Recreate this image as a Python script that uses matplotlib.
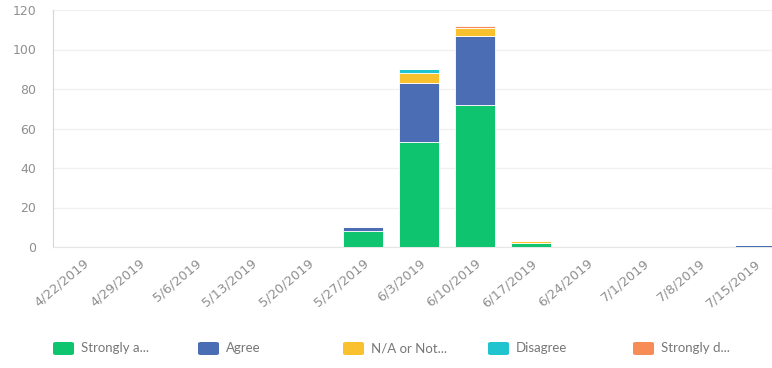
import matplotlib
matplotlib.use("Agg")
import matplotlib.pyplot as plt
from matplotlib.patches import FancyBboxPatch
import numpy as np

plt.rcParams['font.family'] = ['DejaVu Sans']

# data
weeks = ["4/22/2019", "4/29/2019", "5/6/2019", "5/13/2019", "5/20/2019", "5/27/2019",
         "6/3/2019", "6/10/2019", "6/17/2019", "6/24/2019", "7/1/2019", "7/8/2019", "7/15/2019"]
strongly_agree = [0, 0, 0, 0, 0, 8, 53, 72, 2, 0, 0, 0, 0]
agree = [0, 0, 0, 0, 0, 2, 30, 35, 0, 0, 0, 0, 1]
na_not = [0, 0, 0, 0, 0, 0, 5, 4, 1, 0, 0, 0, 0]
disagree = [0, 0, 0, 0, 0, 0, 2, 0, 0, 0, 0, 0, 0]
strongly_disagree = [0, 0, 0, 0, 0, 0, 0, 1, 0, 0, 0, 0, 0]

series = [strongly_agree, agree, na_not, disagree, strongly_disagree]
labels = ["Strongly a...", "Agree", "N/A or Not...", "Disagree", "Strongly d..."]
colors = ["#0fc46f", "#4a6db3", "#f8c12d", "#1fc4cf", "#f78c57"]

fig = plt.figure(figsize=(7.72, 3.68), dpi=100)
ax = fig.add_axes([53 / 772, 121 / 368, (772 - 53) / 772, 237 / 368])

x = np.arange(len(weeks))
bottom = np.zeros(len(weeks))
for vals, c in zip(series, colors):
    vals = np.array(vals, dtype=float)
    ax.bar(x, vals, width=0.72, bottom=bottom, color=c, edgecolor="white",
           linewidth=0.6, zorder=3)
    bottom += vals

ax.set_xlim(-0.54, 12.3)
ax.set_ylim(0, 120)
ax.set_yticks(range(0, 121, 20))
ax.yaxis.grid(True, color="#f0f0f0", linewidth=1, zorder=0)
ax.set_xticks(x)
ax.set_xticklabels(weeks, rotation=40, ha="right", rotation_mode="anchor")
ax.tick_params(axis="y", length=0, pad=12, labelsize=9, labelcolor="#8f8f8f")
ax.tick_params(axis="x", length=0, pad=7, labelsize=9.4, labelcolor="#8f8f8f")

for s in ["top", "right"]:
    ax.spines[s].set_visible(False)
ax.spines["left"].set_color("#d5d5d5")
ax.spines["bottom"].set_color("#e6e6e6")

# legend along the bottom
for i, (lab, c) in enumerate(zip(labels, colors)):
    px = 53 + i * 145
    fig.patches.append(FancyBboxPatch((px / 772, 13 / 368), 21 / 772, 13 / 368,
                                      boxstyle="round,pad=0,rounding_size=0.004",
                                      transform=fig.transFigure, facecolor=c,
                                      edgecolor="none"))
    fig.text((px + 28) / 772, 19.5 / 368, lab, fontsize=9.5, color="#777777",
             va="center", ha="left", family="Lato")

fig.savefig("out.png", dpi=100)
